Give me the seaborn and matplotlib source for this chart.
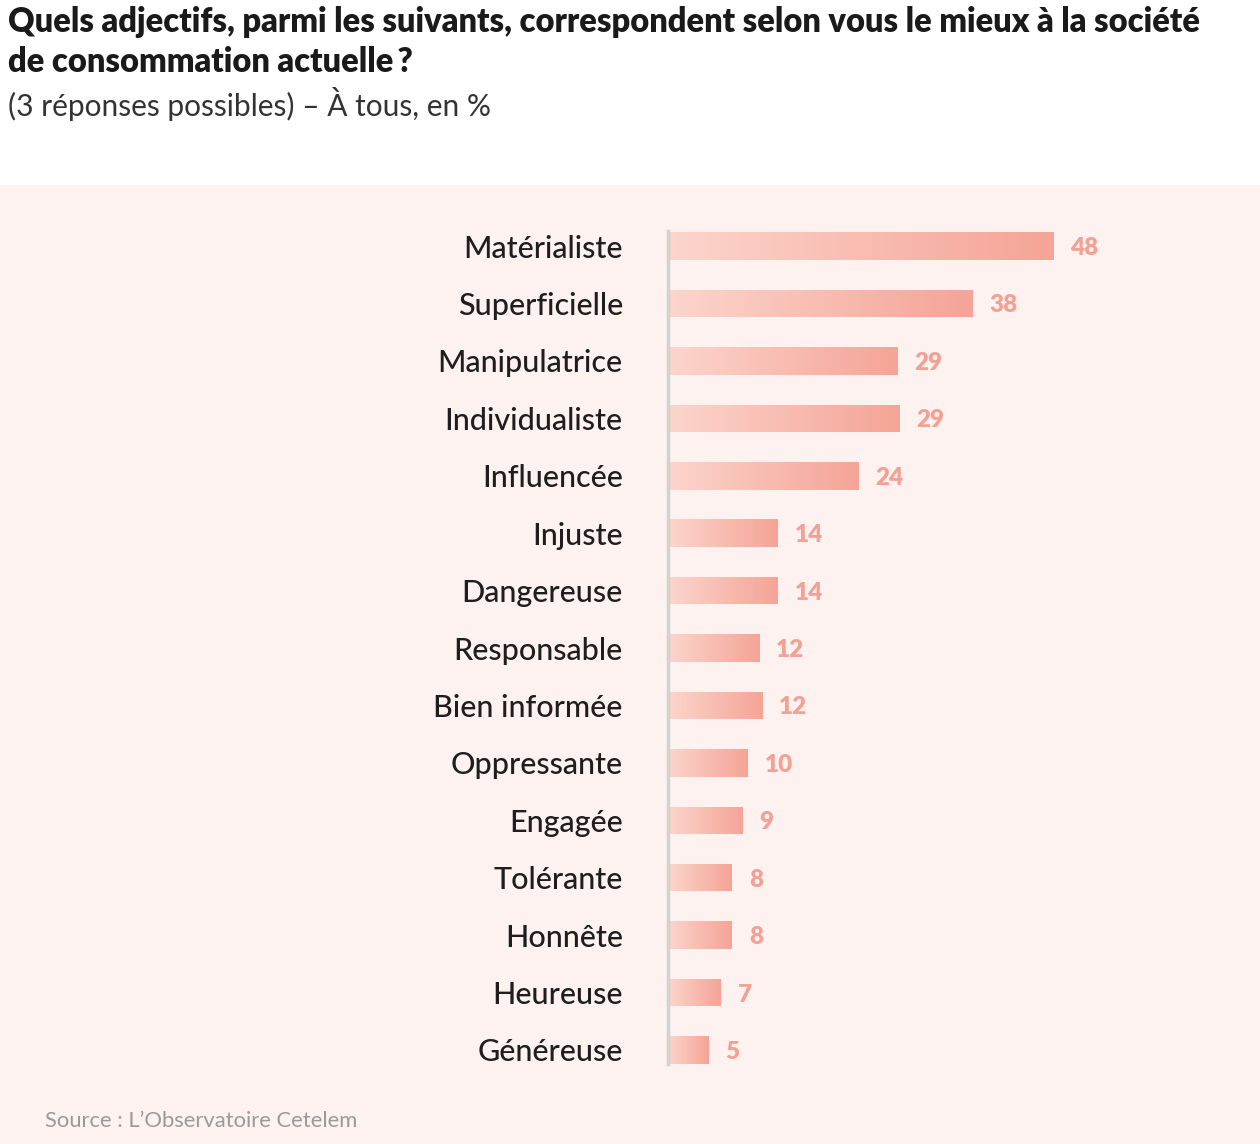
import numpy as np
import pandas as pd
import seaborn as sns
import matplotlib.pyplot as plt
from matplotlib.patches import Rectangle
from matplotlib.colors import LinearSegmentedColormap

# données
adjectifs = ["Matérialiste", "Superficielle", "Manipulatrice", "Individualiste",
             "Influencée", "Injuste", "Dangereuse", "Responsable", "Bien informée",
             "Oppressante", "Engagée", "Tolérante", "Honnête", "Heureuse", "Généreuse"]
valeurs = [48, 38, 29, 29, 24, 14, 14, 12, 12, 10, 9, 8, 8, 7, 5]
# longueur réelle des barres (arrondis)
longueurs = [48.2, 38.1, 28.7, 28.9, 23.8, 13.7, 13.7, 11.4, 11.8, 10.0, 9.3, 8.0, 8.0, 6.6, 5.1]

df = pd.DataFrame({"adjectif": adjectifs, "valeur": longueurs})

sns.set_style("white")
plt.rcParams['font.family'] = ['Lato', 'DejaVu Sans']

fig = plt.figure(figsize=(12.6, 11.44), dpi=100)
fig.patch.set_facecolor("white")
# panneau rose
fig.patches.append(Rectangle((0, 0), 1, 1 - 185 / 1144, transform=fig.transFigure,
                             facecolor="#fdf2f0", edgecolor="none", zorder=-10))

ax = fig.add_axes([668 / 1260, 0.0571, 560 / 1260, 0.810 - 0.0571])
ax.set_facecolor("none")
ax.set_zorder(5)

sns.barplot(data=df, x="valeur", y="adjectif", orient="h", width=0.48,
            color="#f8b8ab", ax=ax)

cmap = LinearSegmentedColormap.from_list("grad", ["#fcd5cc", "#f5a497"])
grad = np.linspace(0, 1, 256).reshape(1, -1)
for bar in ax.patches:
    x0, y0 = bar.get_x(), bar.get_y()
    w, h = bar.get_width(), bar.get_height()
    bar.set_facecolor("none")
    bar.set_edgecolor("none")
    im = ax.imshow(grad, cmap=cmap, aspect="auto", extent=[x0, x0 + w, y0 + h, y0],
                   zorder=2, interpolation="bicubic")
    im.set_clip_path(bar)

for i, (v, l) in enumerate(zip(valeurs, longueurs)):
    ax.text(l + 2.1, i, str(v), va="center_baseline", ha="left", fontsize=17.5,
            fontweight="heavy", color="#f3a195")

ax.set_xlim(0, 70)
ax.set_ylim(14.5, -0.5)
ax.set_xlabel("")
ax.set_ylabel("")
ax.set_xticks([])
sns.despine(ax=ax, top=True, right=True, bottom=True, left=False)
ax.spines["left"].set_color("#d2d2d2")
ax.spines["left"].set_linewidth(2.5)
ax.spines["left"].set_bounds(-0.26, 14.24)
ax.tick_params(axis="y", length=0, pad=32.5, labelsize=22, labelcolor="#1e1e1e")
for t in ax.get_yticklabels():
    t.set_fontweight("medium")

fig.text(8 / 1260, 1 - 22 / 1144, "Quels adjectifs, parmi les suivants, correspondent selon vous le mieux à la société",
         fontsize=23.5, fontweight="heavy", color="#1a1a1a", va="center", ha="left")
fig.text(8 / 1260, 1 - 62 / 1144, "de consommation actuelle\u2009?",
         fontsize=23.5, fontweight="heavy", color="#1a1a1a", va="center", ha="left")
fig.text(8 / 1260, 1 - 104 / 1144, "(3 réponses possibles) – À tous, en %",
         fontsize=21.5, color="#333333", va="center", ha="left")
fig.text(45 / 1260, 1 - 1121 / 1144, "Source : L’Observatoire Cetelem",
         fontsize=15.8, color="#9a9a9a", va="center", ha="left")

fig.savefig("out.png", dpi=100)
